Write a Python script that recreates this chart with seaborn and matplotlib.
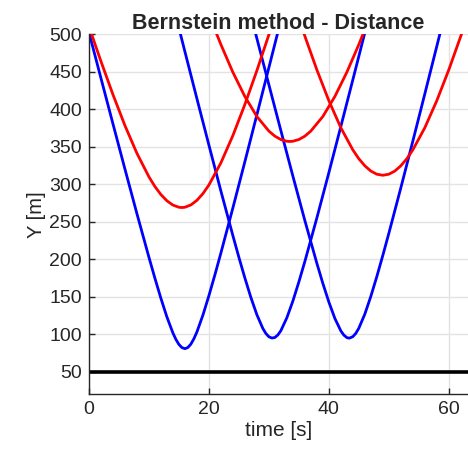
import matplotlib
matplotlib.use("Agg")
import matplotlib.pyplot as plt
import seaborn as sns

# distance curves (time [s], distance [m])
# blue pairs
b1_t = [0, 1, 2, 4, 6, 8, 10, 11, 12, 13, 14, 14.5, 15, 15.5, 16,
        16.5, 17, 17.5, 18, 19, 20, 21, 22, 24, 26, 28, 30, 32]
b1_y = [502.6, 472, 441.5, 380.7, 320.4, 260.9, 202.9, 174.9, 148.1, 123.3, 102, 93.4, 86.7, 82.5, 81,
        82.6, 87.1, 94.2, 103.2, 125.6, 151.5, 179.3, 208.4, 268.5, 330.1, 392.5, 455.3, 518.4]

b2_t = [15, 16, 18, 20, 22, 24, 25, 26, 27, 28, 29, 29.5, 30, 30.5,
        31, 31.5, 32, 33, 34, 35, 36, 38, 40, 42, 44, 46, 47]
b2_y = [508.2, 476.8, 414.2, 352.3, 291.1, 231.6, 202.8, 175.2, 149.3, 126.3, 107.9, 101.3, 96.9, 95.2,
        95.9, 99.3, 105, 122.2, 144.4, 169.9, 197.2, 255.1, 315.4, 377, 439.2, 501.9, 533.3]

b3_t = [27, 28, 30, 32, 34, 36, 38, 39, 40, 41, 42, 42.5, 43, 43.4,
        44, 44.5, 45, 46, 47, 48, 49, 50, 52, 54, 56, 58, 59]
b3_y = [525.3, 494.3, 432.7, 371.5, 311, 251.7, 194.8, 168, 143.2, 121.4, 104.7, 99.1, 95.8, 95,
        97, 101.5, 108.3, 127.1, 150.7, 177.1, 205.3, 234.6, 295.2, 357.4, 420.4, 483.9, 515.8]

# red pairs
r1_t = [0, 1, 2, 4, 6, 8, 10, 11, 12, 13, 14, 15, 15.5,
        16, 17, 18, 19, 20, 22, 24, 26, 28, 30, 31]
r1_y = [510.6, 487, 463.9, 419.6, 378.3, 341.3, 310, 297, 286.3, 278, 272.3, 269.4, 269,
        269.4, 272.5, 278.6, 287.5, 299, 328.5, 364.9, 406.3, 451.4, 499.2, 523.8]

r2_t = [20, 21, 22, 24, 26, 28, 30, 31, 32, 33, 33.5,
        34, 35, 36, 37, 39, 41, 43, 45, 46]
r2_y = [526.8, 506.1, 486.2, 449.2, 416.9, 390.3, 370.9, 364.1, 359.6, 357.3, 357,
        357.3, 359.6, 364.1, 370.9, 390.3, 416.9, 449.2, 486.2, 506.1]

r3_t = [35, 36, 38, 40, 42, 44, 45, 46, 47, 48, 49,
        50, 51, 52, 53, 54, 56, 58, 60, 62, 63]
r3_y = [521, 497.4, 452.5, 411.4, 375.3, 345.8, 334, 324.6, 317.6, 313.4, 312,
        313.4, 317.6, 324.6, 334, 345.8, 375.3, 411.4, 452.5, 497.4, 521]

safe_dist = 50
x_ticks = [0, 20, 40, 60]
y_ticks = [50, 100, 150, 200, 250, 300, 350, 400, 450, 500]

sns.set_style("whitegrid")
plt.rcParams["font.family"] = ["Liberation Sans", "DejaVu Sans"]

fig = plt.figure(figsize=(4.68, 4.55), dpi=100)
ax = fig.add_axes([0.190, 0.133, 0.810, 0.792])

for t, y in [(b1_t, b1_y), (b2_t, b2_y), (b3_t, b3_y)]:
    sns.lineplot(x=t, y=y, color="#0000ff", lw=2, sort=False, estimator=None, ax=ax)
for t, y in [(r1_t, r1_y), (r2_t, r2_y), (r3_t, r3_y)]:
    sns.lineplot(x=t, y=y, color="#ff0000", lw=2, sort=False, estimator=None, ax=ax)
ax.axhline(safe_dist, color="black", lw=2.6)

ax.set_xlim(0, 63.2)
ax.set_ylim(20, 500)
ax.set_xticks(x_ticks)
ax.set_yticks(y_ticks)
ax.grid(True, color="#e3e3e3", lw=1)
for s in ["top", "right"]:
    ax.spines[s].set_visible(False)
for s in ["left", "bottom"]:
    ax.spines[s].set_color("#262626")
    ax.spines[s].set_linewidth(1)
ax.tick_params(direction="in", length=4, width=1, color="#262626",
               labelsize=14, labelcolor="#262626", left=True, bottom=True, pad=5)
ax.set_xlabel("time [s]", fontsize=15, color="#262626", labelpad=2)
ax.set_ylabel("Y [m]", fontsize=14.5, color="#262626", labelpad=2)
ax.set_title("Bernstein method - Distance", fontsize=15.5, fontweight="bold", pad=4)

plt.savefig("out.png", dpi=100)
